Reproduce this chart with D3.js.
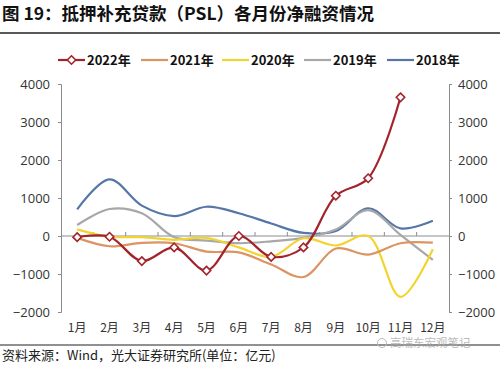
<!DOCTYPE html>
<html><head><meta charset="utf-8">
<script src="https://cdn.jsdelivr.net/npm/d3@7"></script>
<style>
body{margin:0;background:#fff;}
svg{display:block;font-family:"Noto Sans CJK SC","Noto Sans",sans-serif;}
</style></head>
<body><svg id="c" width="500" height="365"></svg>
<script>
const months = ["1月","2月","3月","4月","5月","6月","7月","8月","9月","10月","11月","12月"];
const yTicks = [-2000,-1000,0,1000,2000,3000,4000];
const seriesNames = ["2022年","2021年","2020年","2019年","2018年"];
const v2022 = [-30,-20,-660,-300,-910,0,-550,-300,1060,1520,3650,null];
const v2021 = [-50,-270,-180,-190,-410,-430,-750,-1080,-330,-490,-190,-175];
const v2020 = [175,-20,-30,-100,-50,-300,-550,-60,-250,0,-1600,-350];
const v2019 = [290,710,600,-30,-120,-190,-140,-50,170,680,30,-630];
const v2018 = [700,1490,800,525,770,600,330,80,130,730,200,400];
const colors = ["#A3232B","#DB9462","#F2D431","#A8A8A8","#5676A8"];

const svg = d3.select("#c");
// title
svg.append("text").attr("x",2).attr("y",20).attr("font-size",17.5).attr("font-weight","bold").attr("fill","#111")
  .text("图 19：抵押补充贷款（PSL）各月份净融资情况");
svg.append("line").attr("x1",0).attr("x2",500).attr("y1",33).attr("y2",33).attr("stroke","#222").attr("stroke-width",1.5);

const x = d3.scaleBand().domain(months).range([61,449]);
const y = d3.scaleLinear().domain([-2000,4000]).range([312,84]);
const xc = m => x(m)+x.bandwidth()/2;

// axes
const axL = svg.append("g").attr("transform","translate(61,0)")
  .call(d3.axisLeft(y).tickValues(yTicks).tickSize(3).tickPadding(8).tickFormat(d3.format("d")));
const axR = svg.append("g").attr("transform","translate(449,0)")
  .call(d3.axisRight(y).tickValues(yTicks).tickSize(3).tickPadding(6).tickFormat(d3.format("d")));
[axL,axR].forEach(a=>{
  a.select(".domain").attr("stroke","#8c8c8c");
  a.selectAll(".tick line").attr("stroke","#8c8c8c");
  a.selectAll("text").attr("font-size",13).attr("fill","#333").attr("font-family","'Open Sans','Noto Sans',sans-serif");
});
// zero axis
const ax0 = svg.append("g").attr("transform",`translate(0,${y(0)})`);
ax0.append("line").attr("x1",61).attr("x2",449).attr("stroke","#8c8c8c").attr("stroke-width",1);
months.forEach((m,i)=>{ if(i>0) ax0.append("line").attr("x1",x(m)).attr("x2",x(m)).attr("y1",0).attr("y2",-4).attr("stroke","#8c8c8c"); });
// month labels
svg.append("g").selectAll("text").data(months).join("text")
  .attr("x",d=>xc(d)).attr("y",332).attr("text-anchor","middle").attr("font-size",12).attr("fill","#333").text(d=>d);

const data = [v2022,v2021,v2020,v2019,v2018];
const line = d3.line().defined(d=>d[1]!=null).x(d=>xc(d[0])).y(d=>y(d[1])).curve(d3.curveCatmullRom.alpha(0.5));
for(let s=4;s>=0;s--){
  svg.append("path").datum(months.map((m,i)=>[m,data[s][i]])).attr("d",line)
    .attr("fill","none").attr("stroke",colors[s]).attr("stroke-width",2.2);
}
// markers for 2022
const diamond = d3.symbol().type(d3.symbolDiamond2).size(45);
svg.append("g").selectAll("path").data(months.map((m,i)=>[m,v2022[i]]).filter(d=>d[1]!=null)).join("path")
  .attr("d",diamond).attr("transform",d=>`translate(${xc(d[0])},${y(d[1])})`)
  .attr("fill","#fff").attr("stroke",colors[0]).attr("stroke-width",1.6);

// legend
const legX = [58,141,222,304,387];
const lg = svg.append("g");
seriesNames.forEach((n,i)=>{
  const g = lg.append("g").attr("transform",`translate(${legX[i]},60)`);
  g.append("line").attr("x1",0).attr("x2",27).attr("stroke",colors[i]).attr("stroke-width",2.2);
  if(i===0) g.append("path").attr("d",diamond).attr("transform","translate(13.5,0)").attr("fill","#fff").attr("stroke",colors[0]).attr("stroke-width",1.6);
  g.append("text").attr("x",29).attr("y",5).attr("font-size",13).attr("font-weight","bold").attr("fill","#111").text(n);
});

// bottom
svg.append("line").attr("x1",0).attr("x2",500).attr("y1",345).attr("y2",345).attr("stroke","#222").attr("stroke-width",1.2);
svg.append("text").attr("x",390).attr("y",347).attr("font-size",11.5).attr("fill","#aaa").attr("opacity",0.8).text("高瑞东宏观笔记");
svg.append("circle").attr("cx",382).attr("cy",343).attr("r",4.5).attr("fill","none").attr("stroke","#bbb");
svg.append("text").attr("x",2).attr("y",360).attr("font-size",13).attr("fill","#222")
  .text("资料来源：Wind，光大证券研究所(单位：亿元)");
</script></body></html>
